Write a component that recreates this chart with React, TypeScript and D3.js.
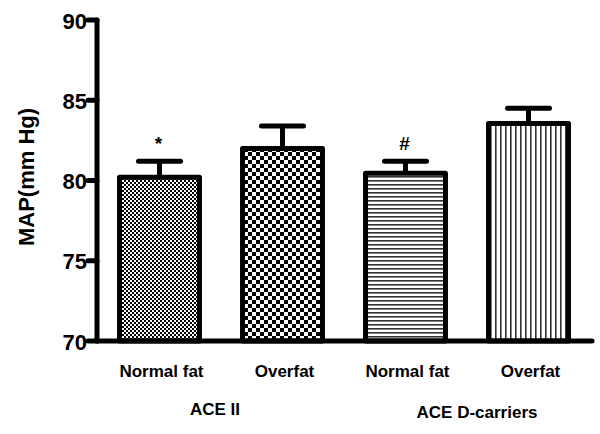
import React from "react";
import * as d3 from "d3";

const categories = ["Normal fat", "Overfat", "Normal fat", "Overfat"];
const groups = ["ACE II", "ACE D-carriers"];
const means = [80.2, 82.0, 80.45, 83.55];
const errors = [1.0, 1.4, 0.75, 0.95];
const marks = ["*", "", "#", ""];
const yTicks = [70, 75, 80, 85, 90];
const patternIds = ["pFine", "pCoarse", "pHoriz", "pVert"];

const FONT = "'Liberation Sans', Arial, sans-serif";

export default function App() {
  const width = 600;
  const height = 434;
  const axisX = 97;
  const x = d3
    .scaleBand<number>()
    .domain(categories.map((_, i) => i))
    .range([98, 590])
    .paddingInner(0.35)
    .paddingOuter(0.175);
  const y = d3.scaleLinear().domain([70, 90]).range([341, 20]);
  const bw = x.bandwidth();

  return (
    <svg
      width={width}
      height={height}
      style={{ position: "absolute", left: 0, top: 0, background: "#fff" }}
      fontFamily={FONT}
    >
      <defs>
        <pattern id="pFine" width={4} height={4} patternUnits="userSpaceOnUse">
          <rect width={4} height={4} fill="#fff" />
          <rect x={0} y={0} width={2} height={2} fill="#000" />
          <rect x={2} y={2} width={2} height={2} fill="#000" />
        </pattern>
        <pattern id="pCoarse" width={8} height={8} patternUnits="userSpaceOnUse">
          <rect width={8} height={8} fill="#fff" />
          <rect x={0} y={0} width={4} height={4} fill="#000" />
          <rect x={4} y={4} width={4} height={4} fill="#000" />
        </pattern>
        <pattern id="pHoriz" width={4} height={4} patternUnits="userSpaceOnUse">
          <rect width={4} height={4} fill="#fff" />
          <rect x={0} y={0} width={4} height={1.6} fill="#333" />
        </pattern>
        <pattern id="pVert" width={5} height={5} patternUnits="userSpaceOnUse">
          <rect width={5} height={5} fill="#fff" />
          <rect x={0} y={0} width={1.6} height={5} fill="#333" />
        </pattern>
      </defs>

      {/* bars */}
      {means.map((m, i) => {
        const x0 = x(i)!;
        const cx = x0 + bw / 2;
        const top = y(m);
        const errTop = y(m + errors[i]);
        return (
          <g key={i}>
            <line
              x1={cx}
              x2={cx}
              y1={top}
              y2={errTop}
              stroke="#000"
              strokeWidth={5}
            />
            <line
              x1={cx - 21}
              x2={cx + 21}
              y1={errTop}
              y2={errTop}
              stroke="#000"
              strokeWidth={5}
              strokeLinecap="round"
            />
            <rect
              x={x0}
              y={top}
              width={bw}
              height={y(70) - top}
              fill={`url(#${patternIds[i]})`}
              stroke="#000"
              strokeWidth={5}
              strokeLinejoin="round"
            />
            {marks[i] && (
              <text
                x={cx - 1}
                y={errTop - 18}
                textAnchor="middle"
                dominantBaseline="central"
                fontSize={19}
                fontWeight="bold"
              >
                {marks[i]}
              </text>
            )}
          </g>
        );
      })}

      {/* y axis */}
      <line x1={axisX} x2={axisX} y1={y(90)} y2={y(70)} stroke="#000" strokeWidth={5} strokeLinecap="round" />
      {yTicks.map((t) => (
        <g key={t}>
          <line x1={axisX - 9} x2={axisX} y1={y(t)} y2={y(t)} stroke="#000" strokeWidth={5} strokeLinecap="round" />
          <text
            x={87}
            y={y(t) + 1}
            textAnchor="end"
            dominantBaseline="central"
            fontSize={22}
            fontWeight="bold"
          >
            {t}
          </text>
        </g>
      ))}
      {/* x axis */}
      <line x1={axisX} x2={592} y1={y(70)} y2={y(70)} stroke="#000" strokeWidth={5} strokeLinecap="round" />

      {/* category labels */}
      {categories.map((c, i) => (
        <text
          key={i}
          x={x(i)! + bw / 2 + 2}
          y={371}
          textAnchor="middle"
          dominantBaseline="central"
          fontSize={17}
          fontWeight="bold"
        >
          {c}
        </text>
      ))}
      {/* group labels */}
      {groups.map((g, i) => (
        <text
          key={g}
          x={i === 0 ? 215 : 477}
          y={i === 0 ? 409 : 412}
          textAnchor="middle"
          dominantBaseline="central"
          fontSize={17}
          fontWeight="bold"
        >
          {g}
        </text>
      ))}

      {/* y label */}
      <text
        transform={`translate(26,177) rotate(-90)`}
        textAnchor="middle"
        dominantBaseline="central"
        fontSize={22}
        fontWeight="bold"
      >
        MAP(mm Hg)
      </text>
    </svg>
  );
}
